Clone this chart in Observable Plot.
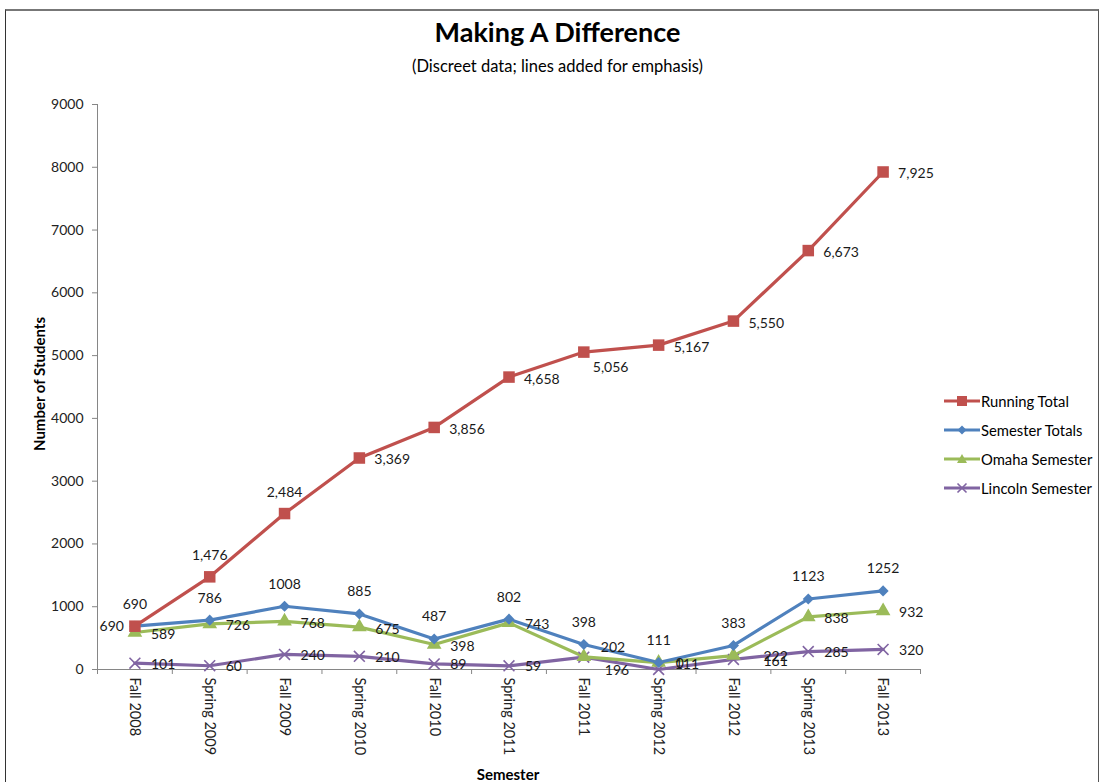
<!DOCTYPE html>
<html>
<head>
<meta charset="utf-8">
<script src="https://cdn.jsdelivr.net/npm/d3@7"></script>
<script src="https://cdn.jsdelivr.net/npm/@observablehq/plot@0.6"></script>
<style>
  html, body { margin: 0; padding: 0; background: #fff; }
  body { width: 1101px; height: 782px; overflow: hidden; position: relative; font-family: Lato, "Open Sans", sans-serif; }
  #frame { position: absolute; left: 5px; top: 9px; width: 1092px; height: 800px; border-left: 1px solid #333; border-top: 2px solid #777; border-right: 1px solid #555; }
  #title { position: absolute; left: 0; width: 1115px; top: 15px; text-align: center; font-size: 27px; font-weight: bold; color: #000; line-height: 34px; }
  #subtitle { position: absolute; left: 0; width: 1115px; top: 55px; text-align: center; font-size: 16.5px; color: #000; line-height: 22px; }
  #ylabel { position: absolute; left: 39px; top: 384px; transform: translate(-50%, -50%) rotate(-90deg); font-size: 15px; font-weight: bold; white-space: nowrap; }
  #xlabel { position: absolute; left: 508px; top: 764px; transform: translateX(-50%); font-size: 15px; font-weight: bold; line-height: 20px; }
  #chart { position: absolute; left: 0; top: 90px; }
  #legend { position: absolute; left: 944px; top: 386px; font-size: 14.8px; color: #000; }
  #legend .row { display: flex; align-items: center; height: 29px; }
  #legend svg { margin-right: 1px; }
</style>
</head>
<body>
<div id="frame"></div>
<div id="title">Making A Difference</div>
<div id="subtitle">(Discreet data; lines added for emphasis)</div>
<div id="chart"></div>
<div id="ylabel">Number of Students</div>
<div id="xlabel">Semester</div>
<div id="legend"></div>
<script>
const semesters = ["Fall 2008", "Spring 2009", "Fall 2009", "Spring 2010", "Fall 2010", "Spring 2011", "Fall 2011", "Spring 2012", "Fall 2012", "Spring 2013", "Fall 2013"];
const runningTotal = [690, 1476, 2484, 3369, 3856, 4658, 5056, 5167, 5550, 6673, 7925];
const semesterTotals = [690, 786, 1008, 885, 487, 802, 398, 111, 383, 1123, 1252];
const omahaSemester = [589, 726, 768, 675, 398, 743, 202, 111, 222, 838, 932];
const lincolnSemester = [101, 60, 240, 210, 89, 59, 196, 0, 161, 285, 320];
const yTicks = [0, 1000, 2000, 3000, 4000, 5000, 6000, 7000, 8000, 9000];
const seriesNames = ["Running Total", "Semester Totals", "Omaha Semester", "Lincoln Semester"];
const seriesColors = ["#C0504D", "#4F81BD", "#9BBB59", "#8064A2"];

const rows = (vals, s) => vals.map((v, i) => ({i, v, s}));
const run = rows(runningTotal, 0);
const tot = rows(semesterTotals, 1);
const oma = rows(omahaSemester, 2);
const lin = rows(lincolnSemester, 3);
const idx = semesters.map((_, i) => i);
const boundaries = [...idx.map(i => i - 0.5), semesters.length - 0.5];
const fmtRun = d3.format(",");
const lab = {fontSize: 14, fill: "#1a1a1a", fontFamily: "Lato, sans-serif"};

const lineMark = (data, c) => Plot.line(data, {x: "i", y: "v", stroke: seriesColors[c], strokeWidth: 3.2});

const chart = Plot.plot({
  width: 1101,
  height: 692,
  marginLeft: 97,
  marginRight: 181,
  marginTop: 14,
  marginBottom: 113,
  style: {fontFamily: "Lato, sans-serif", fontSize: "12px", color: "#222", background: "transparent"},
  x: {type: "linear", domain: [-0.5, semesters.length - 0.5]},
  y: {domain: [0, 9000]},
  marks: [
    Plot.axisY(yTicks, {tickSize: 5, tickPadding: 9, stroke: "#868686", fontSize: 14, tickFormat: d3.format("d"), label: null}),
    Plot.axisX(boundaries, {tickSize: 5, stroke: "#868686", tickFormat: () => "", label: null}),
    Plot.axisX(idx, {tickSize: 0, tickPadding: 8, tickRotate: 90, tickFormat: i => semesters[i], fontSize: 14.5, label: null}),
    Plot.ruleX([-0.5], {stroke: "#868686"}),
    Plot.ruleY([0], {stroke: "#868686"}),
    lineMark(lin, 3), lineMark(oma, 2), lineMark(tot, 1), lineMark(run, 0),
    Plot.dot(lin, {x: "i", y: "v", symbol: "times", r: 5, stroke: seriesColors[3], strokeWidth: 1.6}),
    Plot.dot(oma, {x: "i", y: "v", symbol: "triangle", r: 4.5, fill: seriesColors[2], stroke: seriesColors[2]}),
    Plot.dot(tot, {x: "i", y: "v", symbol: "diamond2", r: 5, fill: seriesColors[1]}),
    Plot.dot(run, {x: "i", y: "v", symbol: "square", r: 6.5, fill: seriesColors[0]}),
    // Running total labels
    Plot.text(run, {filter: d => d.i === 0, x: "i", y: "v", text: d => fmtRun(d.v), dx: -11, textAnchor: "end", ...lab}),
    Plot.text(run, {filter: d => d.i === 1 || d.i === 2, x: "i", y: "v", text: d => fmtRun(d.v), dy: -21, ...lab}),
    Plot.text(run, {filter: d => d.i > 2 && d.i !== 6, x: "i", y: "v", text: d => fmtRun(d.v), dx: 15, dy: 2, textAnchor: "start", ...lab}),
    Plot.text(run, {filter: d => d.i === 6, x: "i", y: "v", text: d => fmtRun(d.v), dx: 9, dy: 15, textAnchor: "start", ...lab}),
    // Semester totals labels
    Plot.text(tot, {x: "i", y: "v", text: d => String(d.v), dy: -22, ...lab}),
    // Omaha labels
    Plot.text(oma, {filter: d => d.i !== 6 && d.i !== 8, x: "i", y: "v", text: d => String(d.v), dx: 16, dy: 2, textAnchor: "start", ...lab}),
    Plot.text(oma, {filter: d => d.i === 6, x: "i", y: "v", text: d => String(d.v), dx: 17, dy: -9, textAnchor: "start", ...lab}),
    Plot.text(oma, {filter: d => d.i === 8, x: "i", y: "v", text: d => String(d.v), dx: 30, dy: 1, textAnchor: "start", ...lab}),
    // Lincoln labels
    Plot.text(lin, {filter: d => d.i !== 6 && d.i !== 7 && d.i !== 8, x: "i", y: "v", text: d => String(d.v), dx: 16, dy: 1, textAnchor: "start", ...lab}),
    Plot.text(lin, {filter: d => d.i === 6, x: "i", y: "v", text: d => String(d.v), dx: 21, dy: 13, textAnchor: "start", ...lab}),
    Plot.text(lin, {filter: d => d.i === 7, x: "i", y: "v", text: d => String(d.v), dx: 17, dy: -6, textAnchor: "start", ...lab}),
    Plot.text(lin, {filter: d => d.i === 8, x: "i", y: "v", text: d => String(d.v), dx: 30, dy: 2, textAnchor: "start", ...lab})
  ]
});
document.getElementById("chart").appendChild(chart);

// Legend
const symbolSvg = [
  c => `<rect x="13" y="5" width="10" height="10" fill="${c}"/>`,
  c => `<path d="M18 5.5 L22.5 10 L18 14.5 L13.5 10 Z" fill="${c}"/>`,
  c => `<path d="M18 5 L23 14 L13 14 Z" fill="${c}"/>`,
  c => `<path d="M13.5 5.5 L22.5 14.5 M22.5 5.5 L13.5 14.5" stroke="${c}" stroke-width="1.6"/>`
];
const legend = document.getElementById("legend");
seriesNames.forEach((name, k) => {
  const row = document.createElement("div");
  row.className = "row";
  row.innerHTML = `<svg width="36" height="20"><line x1="0" x2="36" y1="10" y2="10" stroke="${seriesColors[k]}" stroke-width="3"/>${symbolSvg[k](seriesColors[k])}</svg><span>${name}</span>`;
  legend.appendChild(row);
});
</script>
</body>
</html>
